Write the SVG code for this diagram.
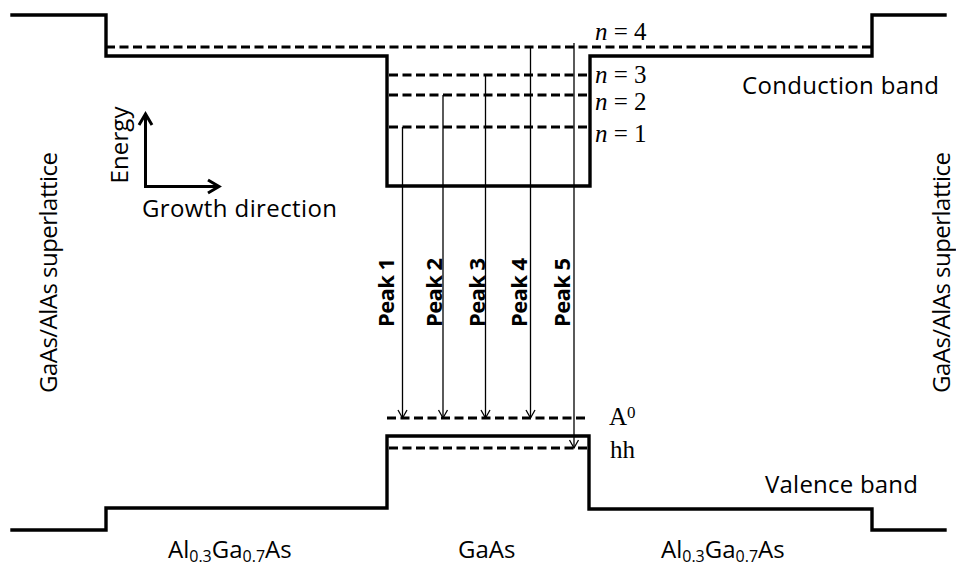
<svg xmlns="http://www.w3.org/2000/svg" width="956" height="569" viewBox="0 0 956 569">
<defs>
<style>
.band{fill:none;stroke:#000;stroke-width:3.4;stroke-linejoin:miter;stroke-linecap:square}
.lvl{fill:none;stroke:#000;stroke-width:2.8;stroke-dasharray:9 4.5}
.tr{fill:none;stroke:#000;stroke-width:1.3}
.ax{fill:none;stroke:#000;stroke-width:3}
.sans{font-family:"Open Sans","Noto Sans","Liberation Sans",sans-serif;font-size:24px;fill:#000}
.peak{font-family:"Open Sans","Noto Sans","Liberation Sans",sans-serif;font-size:22px;font-weight:bold;fill:#000}
.serif{font-family:"Liberation Serif","Times New Roman",serif;font-size:25px;fill:#000}
</style>
<marker id="vhead" viewBox="-12 -7 14 14" refX="0" refY="0" markerWidth="14" markerHeight="14" markerUnits="userSpaceOnUse" orient="auto">
<path d="M-8,-4.5 L0,0 L-8,4.5" fill="none" stroke="#000" stroke-width="1.3"/>
</marker>
<marker id="axhead" viewBox="-14 -9 18 18" refX="0" refY="0" markerWidth="18" markerHeight="18" markerUnits="userSpaceOnUse" orient="auto">
<path d="M-11,-6.5 L0,0 L-11,6.5" fill="none" stroke="#000" stroke-width="3"/>
</marker>
</defs>
<rect width="956" height="569" fill="#fff"/>

<g id="conduction-band">
<polyline class="band" points="12,15 106,15 106,56 387,56 387,186 590,186 590,56 872,56 872,15 945,15"/>
</g>
<g id="valence-band">
<polyline class="band" points="12,530 106,530 106,508 387,508 387,436 589,436 589,509 872,509 872,530 945,530"/>
</g>

<g id="levels">
<line id="n4" class="lvl" x1="106" y1="47" x2="872" y2="47"/>
<line id="n3" class="lvl" x1="389" y1="75" x2="589" y2="75"/>
<line id="n2" class="lvl" x1="389" y1="95" x2="589" y2="95"/>
<line id="n1" class="lvl" x1="389" y1="127" x2="589" y2="127"/>
<line id="A0" class="lvl" x1="387" y1="418" x2="588" y2="418"/>
<line id="hh" class="lvl" x1="389" y1="448" x2="588" y2="448"/>
</g>

<g id="connectors">
<line class="tr" x1="402.5" y1="127" x2="402.5" y2="418" marker-end="url(#vhead)"/>
<line class="tr" x1="443" y1="95" x2="443" y2="418" marker-end="url(#vhead)"/>
<line class="tr" x1="485.5" y1="75" x2="485.5" y2="418" marker-end="url(#vhead)"/>
<line class="tr" x1="530.5" y1="47" x2="530.5" y2="418" marker-end="url(#vhead)"/>
<line class="tr" x1="574" y1="43" x2="574" y2="448" marker-end="url(#vhead)"/>
</g>

<g id="axes">
<line class="ax" x1="145.5" y1="187" x2="145.5" y2="114" marker-end="url(#axhead)"/>
<line class="ax" x1="144" y1="186.5" x2="219" y2="186.5" marker-end="url(#axhead)"/>
<text class="sans" transform="translate(128,145) rotate(-90)" text-anchor="middle" textLength="77">Energy</text>
<text class="sans" x="142" y="217" textLength="195">Growth direction</text>
</g>

<g id="peak-labels">
<text class="peak" transform="translate(394,292.5) rotate(-90)" text-anchor="middle" textLength="69">Peak 1</text>
<text class="peak" transform="translate(441.5,292.5) rotate(-90)" text-anchor="middle" textLength="69">Peak 2</text>
<text class="peak" transform="translate(484.5,292.5) rotate(-90)" text-anchor="middle" textLength="69">Peak 3</text>
<text class="peak" transform="translate(526.5,292.5) rotate(-90)" text-anchor="middle" textLength="69">Peak 4</text>
<text class="peak" transform="translate(570,292.5) rotate(-90)" text-anchor="middle" textLength="69">Peak 5</text>
</g>

<g id="level-labels">
<text class="serif" x="595" y="40"><tspan font-style="italic">n</tspan> = 4</text>
<text class="serif" x="595" y="83"><tspan font-style="italic">n</tspan> = 3</text>
<text class="serif" x="595" y="110"><tspan font-style="italic">n</tspan> = 2</text>
<text class="serif" x="595" y="142"><tspan font-style="italic">n</tspan> = 1</text>
<text class="serif" x="609" y="425">A<tspan font-size="17" dy="-7">0</tspan></text>
<text class="serif" x="610" y="458">hh</text>
</g>

<g id="band-labels">
<text class="sans" x="742" y="94" textLength="197">Conduction band</text>
<text class="sans" x="765" y="493" textLength="153">Valence band</text>
</g>

<g id="region-labels">
<text class="sans" transform="translate(57,272.5) rotate(-90)" text-anchor="middle" textLength="241" font-size="22">GaAs/AlAs superlattice</text>
<text class="sans" transform="translate(950,272.5) rotate(-90)" text-anchor="middle" textLength="241" font-size="22">GaAs/AlAs superlattice</text>
<text class="sans" x="168" y="558">Al<tspan font-size="16" dy="4">0.3</tspan><tspan dy="-4">Ga</tspan><tspan font-size="16" dy="4">0.7</tspan><tspan dy="-4">As</tspan></text>
<text class="sans" x="458" y="558">GaAs</text>
<text class="sans" x="661" y="558">Al<tspan font-size="16" dy="4">0.3</tspan><tspan dy="-4">Ga</tspan><tspan font-size="16" dy="4">0.7</tspan><tspan dy="-4">As</tspan></text>
</g>
</svg>
